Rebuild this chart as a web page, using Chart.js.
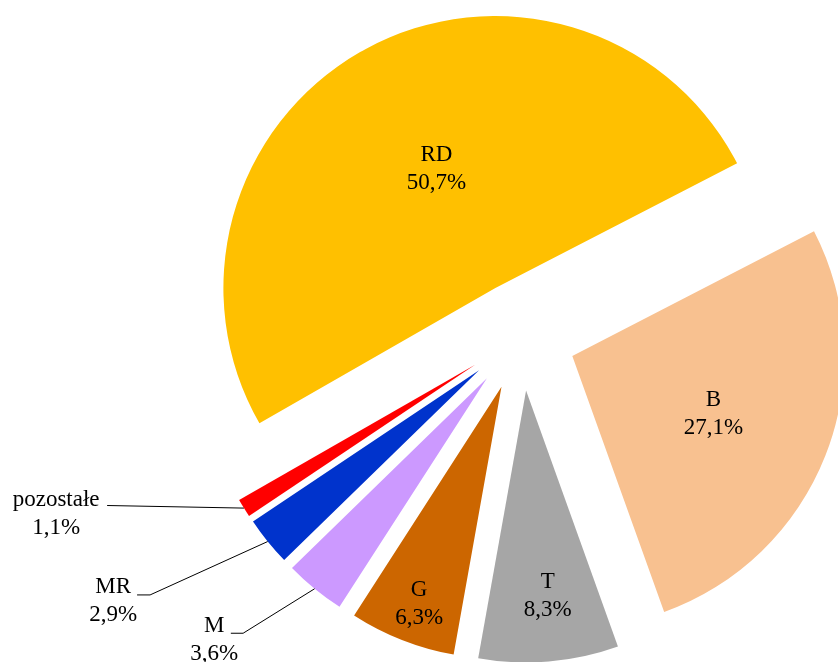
<!DOCTYPE html>
<html>
<head>
<meta charset="utf-8">
<script src="https://cdn.jsdelivr.net/npm/chart.js@4/dist/chart.umd.min.js"></script>
<style>
  html, body { margin: 0; padding: 0; background: #fff; }
  #wrap { width: 838px; height: 662px; position: relative; }
</style>
</head>
<body>
<div id="wrap"><canvas id="chart"></canvas></div>
<script>
const categories = ["RD", "B", "T", "G", "M", "MR", "pozostałe"];
const shares = [50.7, 27.1, 8.3, 6.3, 3.6, 2.9, 1.1];
const sliceColors = ["#FFC000", "#F8C190", "#A6A6A6", "#CC6600", "#CC99FF", "#0033CC", "#FF0000"];

// label placement: inside labels sit at a fraction of the radius (with a small angle nudge),
// outside labels use a leader line measured from the slice's outer edge
const insideLabels = {
  RD: { r: 0.49, da: 2.3 },
  B: { r: 0.56, da: 0.7 },
  T: { r: 0.76, da: -1.2 },
  G: { r: 0.854, da: -0.7 },
};
const outsideLabels = {
  M: { elbow: [-71.5, 44.5], end: [-83.8, 44.5], text: [-100.5, 51.2] },
  MR: { elbow: [-117.6, 53.4], end: [-130.6, 53.4], text: [-154.6, 59.9] },
  "pozostałe": { elbow: [-136.8, -2.6], end: [-136.8, -2.6], text: [-187.8, 5.9] },
};

const EXPLODE = 54.6;
const FONT = '23px "Liberation Serif", "Times New Roman", serif';
const LINE_H = 28;

function formatShare(v) {
  return v.toFixed(1).replace(".", ",") + "%";
}

// move every slice away from the centre along its middle angle (Excel-style explosion)
const explodePlugin = {
  id: "explode",
  afterDatasetUpdate(chart, args) {
    args.meta.data.forEach((arc) => {
      const mid = (arc.startAngle + arc.endAngle) / 2;
      arc.x += Math.cos(mid) * EXPLODE;
      arc.y += Math.sin(mid) * EXPLODE;
    });
  },
};

function drawBlock(ctx, x, y, lines) {
  const top = y - ((lines.length - 1) * LINE_H) / 2;
  lines.forEach((line, i) => ctx.fillText(line, x, top + i * LINE_H));
}

const labelPlugin = {
  id: "sliceLabels",
  afterDatasetsDraw(chart) {
    const ctx = chart.ctx;
    const meta = chart.getDatasetMeta(0);
    ctx.save();
    ctx.font = FONT;
    ctx.fillStyle = "#000";
    ctx.textAlign = "center";
    ctx.textBaseline = "middle";
    ctx.strokeStyle = "#000";
    ctx.lineWidth = 1;
    meta.data.forEach((arc, i) => {
      const name = categories[i];
      const lines = [name, formatShare(shares[i])];
      const mid = (arc.startAngle + arc.endAngle) / 2;
      if (insideLabels[name]) {
        const p = insideLabels[name];
        const a = mid + (p.da * Math.PI) / 180;
        drawBlock(ctx, arc.x + Math.cos(a) * arc.outerRadius * p.r, arc.y + Math.sin(a) * arc.outerRadius * p.r, lines);
      } else if (outsideLabels[name]) {
        const p = outsideLabels[name];
        const ex = arc.x + Math.cos(mid) * arc.outerRadius;
        const ey = arc.y + Math.sin(mid) * arc.outerRadius;
        ctx.beginPath();
        ctx.moveTo(ex, ey);
        ctx.lineTo(ex + p.elbow[0], ey + p.elbow[1]);
        ctx.lineTo(ex + p.end[0], ey + p.end[1]);
        ctx.stroke();
        drawBlock(ctx, ex + p.text[0], ey + p.text[1], lines);
      }
    });
    ctx.restore();
  },
};

new Chart(document.getElementById("chart"), {
  type: "pie",
  data: {
    labels: categories,
    datasets: [
      {
        data: shares,
        backgroundColor: sliceColors,
        borderWidth: 0,
        hoverOffset: 0,
        clip: false,
      },
    ],
  },
  options: {
    responsive: true,
    maintainAspectRatio: false,
    animation: false,
    rotation: 240.18,
    radius: 272,
    layout: { padding: { left: 205, top: 10, right: 0, bottom: 0 } },
    events: [],
    plugins: {
      legend: { display: false },
      tooltip: { enabled: false },
    },
  },
  plugins: [explodePlugin, labelPlugin],
});
</script>
</body>
</html>
